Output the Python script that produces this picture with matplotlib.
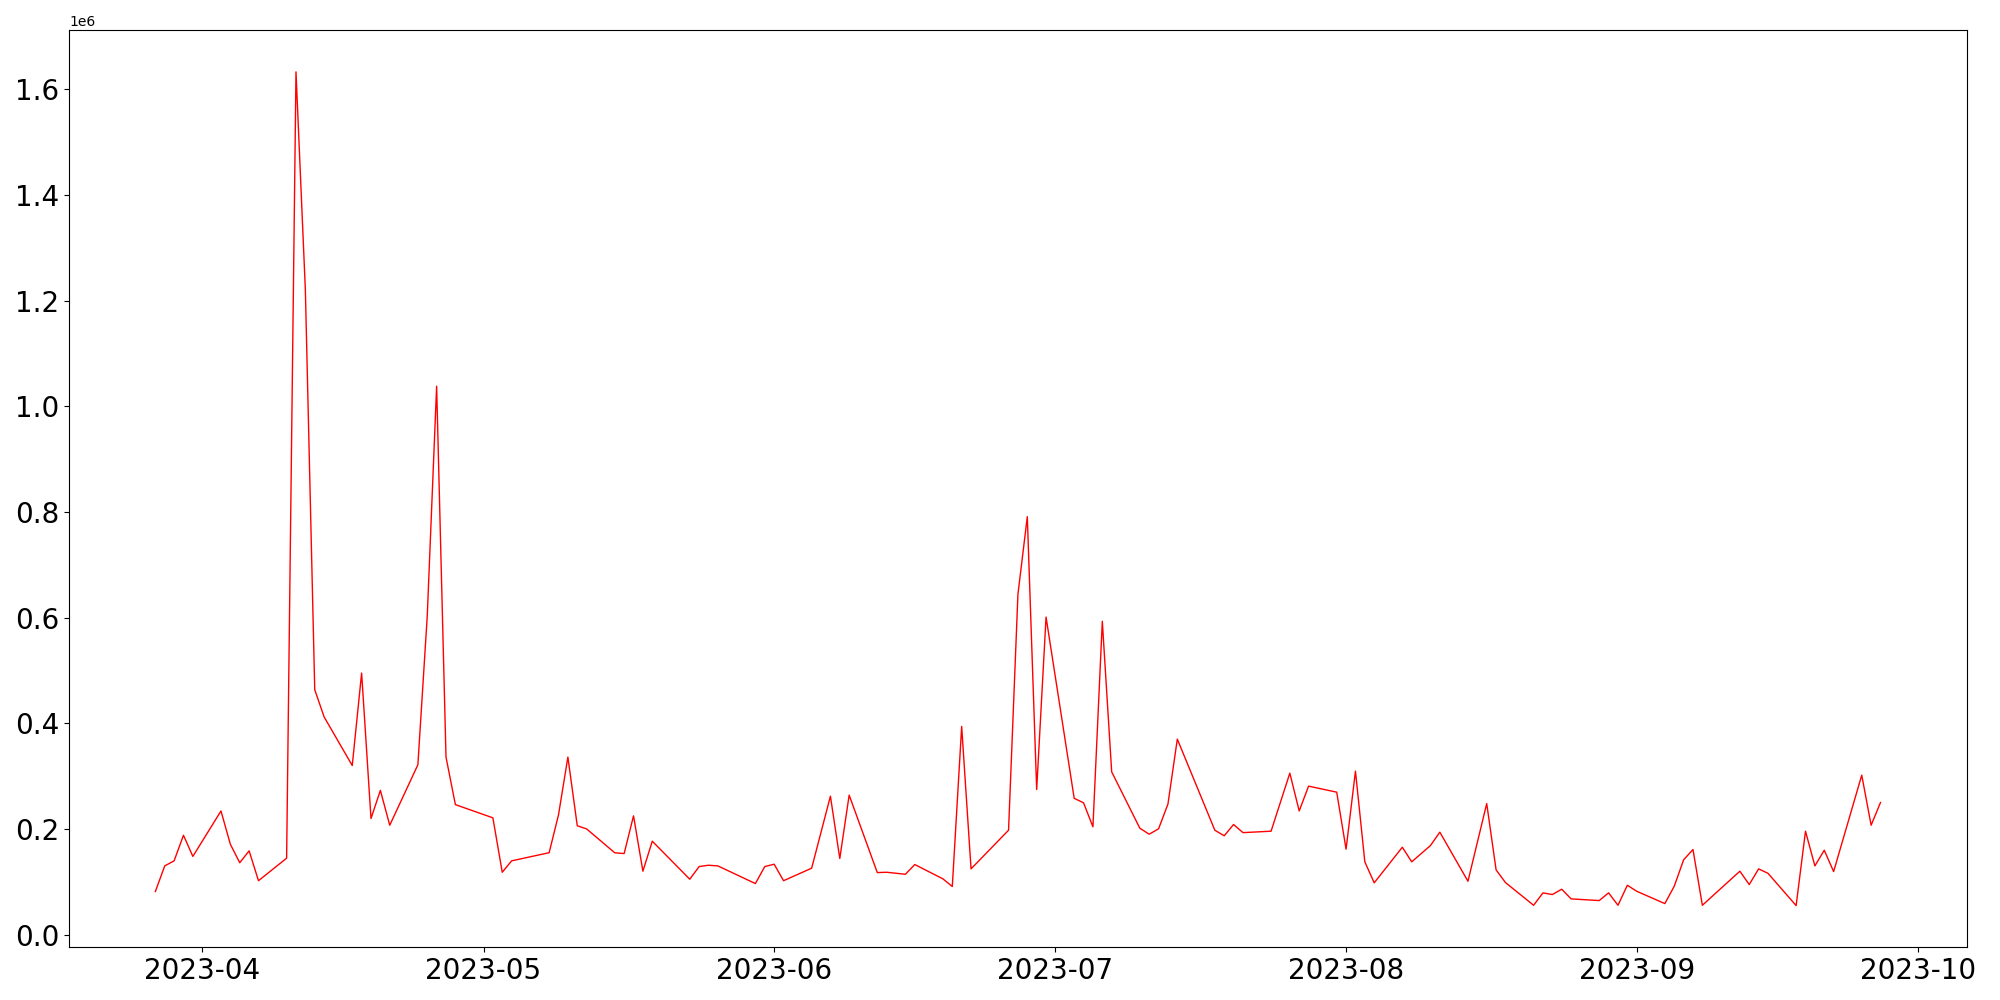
import matplotlib
matplotlib.use('Agg')
import matplotlib.pyplot as plt
import pandas as pd

dates = [
    '2023-03-27', '2023-03-28', '2023-03-29', '2023-03-30', '2023-03-31',
    '2023-04-03', '2023-04-04', '2023-04-05', '2023-04-06', '2023-04-07',
    '2023-04-10', '2023-04-11', '2023-04-12', '2023-04-13', '2023-04-14',
    '2023-04-17', '2023-04-18', '2023-04-19', '2023-04-20', '2023-04-21',
    '2023-04-24', '2023-04-25', '2023-04-26', '2023-04-27', '2023-04-28',
    '2023-05-02', '2023-05-03', '2023-05-04',
    '2023-05-08', '2023-05-09', '2023-05-10', '2023-05-11', '2023-05-12',
    '2023-05-15', '2023-05-16', '2023-05-17', '2023-05-18', '2023-05-19',
    '2023-05-23', '2023-05-24', '2023-05-25', '2023-05-26',
    '2023-05-30', '2023-05-31', '2023-06-01', '2023-06-02',
    '2023-06-05', '2023-06-07', '2023-06-08', '2023-06-09',
    '2023-06-12', '2023-06-13', '2023-06-15', '2023-06-16',
    '2023-06-19', '2023-06-20', '2023-06-21', '2023-06-22',
    '2023-06-26', '2023-06-27', '2023-06-28', '2023-06-29', '2023-06-30',
    '2023-07-03', '2023-07-04', '2023-07-05', '2023-07-06', '2023-07-07',
    '2023-07-10', '2023-07-11', '2023-07-12', '2023-07-13', '2023-07-14',
    '2023-07-18', '2023-07-19', '2023-07-20', '2023-07-21',
    '2023-07-24', '2023-07-26', '2023-07-27', '2023-07-28',
    '2023-07-31', '2023-08-01', '2023-08-02', '2023-08-03', '2023-08-04',
    '2023-08-07', '2023-08-08', '2023-08-10', '2023-08-11',
    '2023-08-14', '2023-08-16', '2023-08-17', '2023-08-18',
    '2023-08-21', '2023-08-22', '2023-08-23', '2023-08-24', '2023-08-25',
    '2023-08-28', '2023-08-29', '2023-08-30', '2023-08-31', '2023-09-01',
    '2023-09-04', '2023-09-05', '2023-09-06', '2023-09-07', '2023-09-08',
    '2023-09-12', '2023-09-13', '2023-09-14', '2023-09-15',
    '2023-09-18', '2023-09-19', '2023-09-20', '2023-09-21', '2023-09-22',
    '2023-09-25', '2023-09-26', '2023-09-27',
]

volume = [
    81500, 130000, 139600, 188000, 148000,
    234000, 171000, 136000, 158500, 102000,
    144600, 1633000, 1220000, 463500, 412000,
    320000, 495000, 219700, 273000, 207000,
    321400, 603000, 1038000, 336000, 246000,
    221000, 118000, 139600,
    155000, 226700, 336000, 206000, 200000,
    154800, 153400, 224800, 120000, 176800,
    104800, 128800, 131300, 130000,
    96600, 128800, 133200, 102000,
    125700, 262000, 144000, 264000,
    117400, 118000, 114200, 132600,
    105500, 91000, 394000, 124400,
    197600, 644000, 791000, 274700, 601000,
    258000, 249400, 204000, 593000, 308000,
    201400, 190000, 200200, 247000, 370000,
    197600, 187000, 208400, 193000,
    195700, 305600, 234000, 281000,
    269600, 161600, 309400, 137700, 98000,
    165400, 137700, 168600, 193800,
    101000, 248000, 122500, 98500,
    55500, 79000, 75800, 85900, 67600,
    64400, 79000, 55500, 93400, 82000,
    58700, 91500, 141500, 161000, 55500,
    120000, 94700, 124400, 116000,
    54900, 195700, 130000, 159700, 119300,
    301800, 207000, 250000,
]

df = pd.DataFrame({'date': pd.to_datetime(dates), 'volume': volume})

fig, ax = plt.subplots(figsize=(20, 10), dpi=100)
ax.plot(df['date'], df['volume'], color='red', linewidth=1)
ax.tick_params(axis='both', labelsize=20)
plt.tight_layout()
plt.savefig('out.png')
plt.close()
